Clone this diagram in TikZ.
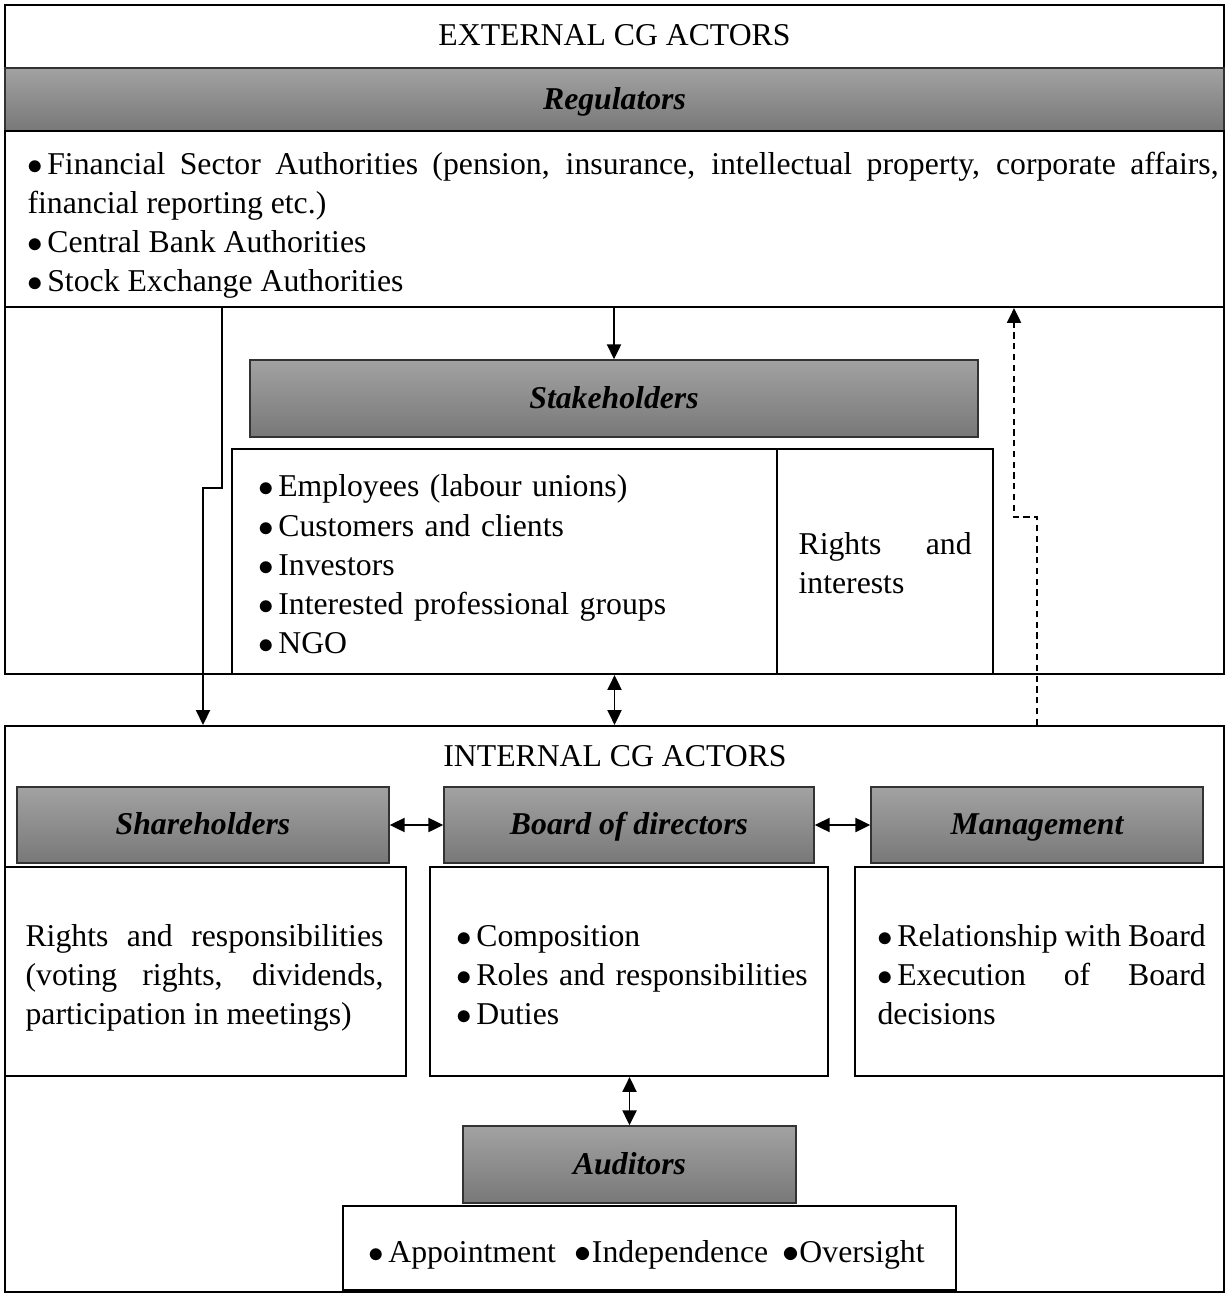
\documentclass[tikz,border=0pt]{standalone}
\usepackage{fontspec}
\setmainfont{Liberation Serif}
\usetikzlibrary{fit,arrows.meta}
\definecolor{barTop}{RGB}{162,162,162}
\definecolor{barBot}{RGB}{120,120,120}
\newcommand\mybul{$\bullet$\hspace{1.5pt}}
\hyphenpenalty=10000
\exhyphenpenalty=10000
\begin{document}
\begin{tikzpicture}[x=0.3529pt,y=-0.3529pt,
  every node/.style={font=\fontsize{11.2}{13.8}\selectfont, inner sep=0pt},
  frame/.style={draw, line width=0.8pt},
  bar/.style={draw=black!80, line width=0.6pt, top color=barTop, bottom color=barBot},
  head/.style={font=\fontsize{11.2}{13.8}\selectfont\bfseries\itshape, text height=7pt, text depth=0pt},
  tip/.style={Triangle[length=5.2pt,width=5pt]},
  arr/.style={line width=0.5pt, -{Triangle[length=5.2pt,width=5pt]}},
  darr/.style={line width=0.5pt, {Triangle[length=5.2pt,width=5pt]}-{Triangle[length=5.2pt,width=5pt]}},
]
\useasboundingbox (0,0) rectangle (1225,1295);

% ---------- external ----------
\node[frame, fit={(5,5)(1224,674)}] (ext) {};
\node[text height=7pt, text depth=0pt] (exttitle) at (614.5,36) {EXTERNAL CG ACTORS};
\node[bar, line width=0.8pt, fit={(5,68)(1224,131)}] (regbar) {};
\node[head] (regbarT) at (regbar.center) {Regulators};
\node[frame, fit={(5,131)(1224,307)}] (reg) {};
\node[text width=420.3pt, align=justify, anchor=west] (regT) at ([yshift=-2.2pt]reg.center -| 27,0)
 {\mybul Financial Sector Authorities (pension, insurance, intellectual property, corporate affairs,\linebreak financial reporting etc.)\\
  \mybul Central Bank Authorities\\
  \mybul Stock Exchange Authorities};

\node[bar, fit={(250,360)(978,437)}] (stk) {};
\node[head] (stkT) at (stk.center) {Stakeholders};
\node[frame, fit={(232,449)(777,674)}] (stkl) {};
\node[text width=174pt, align=left, anchor=west] (stklT) at ([yshift=-1pt]stkl.center -| 258,0)
 {\mybul Employees (labour unions)\\
  \mybul Customers and clients\\
  \mybul Investors\\
  \mybul Interested professional groups\\
  \mybul NGO};
\node[frame, fit={(777,449)(993,674)}] (rights) {};
\node[text width=61.1pt, align=justify, anchor=west] (rightsT) at ([yshift=-0.6pt]rights.center -| 798,0)
 {Rights and\linebreak interests};

% ---------- internal ----------
\node[frame, fit={(5,726)(1224,1292)}] (int) {};
\node[text height=7pt, text depth=0pt] (inttitle) at (615,757) {INTERNAL CG ACTORS};
\node[bar, fit={(17,787)(389,863)}] (sh) {};
\node[head] (shT) at (sh.center) {Shareholders};
\node[bar, fit={(444,787)(814,863)}] (bd) {};
\node[head] (bdT) at (bd.center) {Board of directors};
\node[bar, fit={(871,787)(1203,863)}] (mg) {};
\node[head] (mgT) at (mg.center) {Management};

\node[frame, fit={(5,867)(406,1076)}] (shc) {};
\node[text width=126.3pt, align=justify, anchor=west] (shcT) at ([yshift=-2.2pt]shc.center -| 25,0)
 {Rights and responsibilities\linebreak (voting rights, dividends,\linebreak participation in meetings)};
\node[frame, fit={(430,867)(828,1076)}] (bdc) {};
\node[text width=130pt, align=left, anchor=west] (bdcT) at ([yshift=-1.3pt]bdc.center -| 456,0)
 {\mybul Composition\\
  \mybul Roles and responsibilities\\
  \mybul Duties};
\node[frame, fit={(855,867)(1224,1076)}] (mgc) {};
\node[text width=115.8pt, align=justify, anchor=west] (mgcT) at ([yshift=-1pt]mgc.center -| 877,0)
 {\mybul Relationship with Board\\
  \mybul Execution of Board\linebreak decisions};

\node[bar, fit={(463,1126)(796,1203)}] (aud) {};
\node[head] (audT) at (aud.center) {Auditors};
\node[frame, fit={(343,1206)(956,1290)}] (audc) {};
\node (audcT) at ([xshift=-1pt,yshift=-2.4pt]audc.center)
 {\mybul Appointment\hspace{0.6em}{\large$\bullet$}Independence\hspace{0.45em}{\large$\bullet$}Oversight};

% ---------- connectors ----------
\coordinate (jogA) at (222,488);
\coordinate (jogB) at (203,488);
\coordinate (dashA) at (1037,517);
\coordinate (dashB) at (1014,517);

\draw[arr] (reg.south -| stk.north) -- (stk.north);
\draw[arr] (reg.south -| jogA) -- (jogA) -- (jogB) -- (jogB |- int.north);
\draw[darr] (ext.south) -- (int.north);
\draw[arr, dash pattern=on 2.2pt off 1.6pt] (dashA |- int.north) -- (dashA) -- (dashB) -- (dashB |- reg.south);
\draw[darr] (sh.east) -- (bd.west);
\draw[darr] (bd.east) -- (mg.west);
\draw[darr] (bdc.south -| aud.north) -- (aud.north);
\end{tikzpicture}
\end{document}
